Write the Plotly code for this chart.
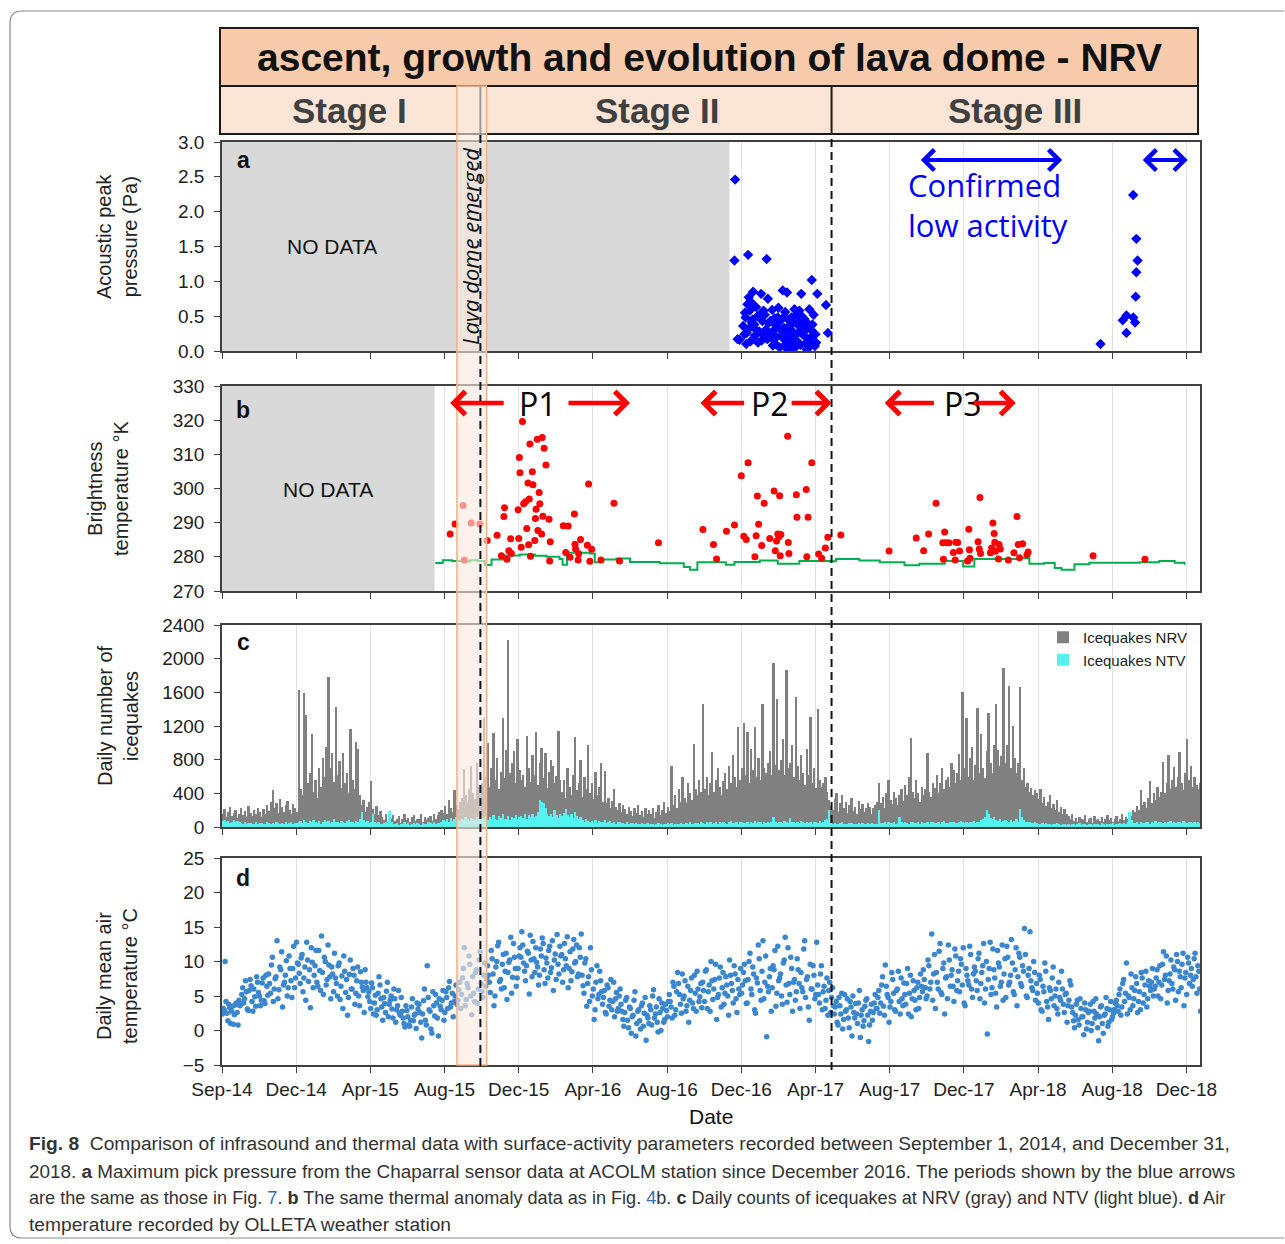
import numpy as np
import pandas as pd
import plotly.graph_objects as go

W, H = 1285, 1244
START = "2014-09-01"
END = "2018-12-31"

# ---------------- data ----------------
tick_dates = ["2014-09-01", "2014-12-30", "2015-04-29", "2015-08-27", "2015-12-25",
              "2016-04-23", "2016-08-21", "2016-12-19", "2017-04-18", "2017-08-16",
              "2017-12-14", "2018-04-13", "2018-08-11", "2018-12-09"]
tick_labels = ["Sep-14", "Dec-14", "Apr-15", "Aug-15", "Dec-15", "Apr-16", "Aug-16",
               "Dec-16", "Apr-17", "Aug-17", "Dec-17", "Apr-18", "Aug-18", "Dec-18"]

# (a) acoustic peak pressure, days since 2014-09-01
acoustic_days = [830, 829, 851, 881, 834, 837, 954, 963, 977, 980, 946, 859, 872, 883, 852, 850, 854,
                 864, 871, 847, 857, 843, 849, 855, 867, 875, 882, 889, 890, 899, 907, 914, 910, 903,
                 905, 912, 917, 922, 925, 929, 934, 937, 939, 932, 923, 942, 945, 950, 952, 955, 959,
                 960, 944, 895, 902, 915, 927, 874, 880, 887, 865, 845, 848, 862, 893, 918, 935, 948,
                 876, 896, 908, 846, 853, 856, 858, 861, 866, 869, 873, 878, 884, 886, 891, 894, 897,
                 900, 904, 909, 911, 913, 916, 919, 921, 924, 926, 928, 931, 933, 936, 938, 940, 943,
                 947, 951, 953, 957, 961,
                 1421, 1463, 1457, 1463, 1474, 1477, 1478, 1479, 1481, 1479, 1474]
acoustic_pa = [2.46, 1.30, 1.38, 1.32, 0.17, 0.16, 1.02, 0.82, 0.66, 0.26, 0.02, 0.85, 0.82, 0.75, 0.77,
               0.67, 0.58, 0.63, 0.53, 0.48, 0.41, 0.36, 0.26, 0.14, 0.12, 0.24, 0.17, 0.19, 0.59, 0.48,
               0.87, 0.84, 0.50, 0.31, 0.22, 0.10, 0.17, 0.29, 0.41, 0.52, 0.58, 0.82, 0.24, 0.12, 0.07,
               0.46, 0.31, 0.60, 0.19, 0.38, 0.07, 0.24, 0.11, 0.10, 0.05, 0.02, 0.05, 0.43, 0.31, 0.43,
               0.29, 0.24, 0.10, 0.22, 0.30, 0.43, 0.43, 0.04, 0.58, 0.37, 0.18, 0.55, 0.33, 0.70, 0.45,
               0.38, 0.50, 0.28, 0.15, 0.52, 0.40, 0.22, 0.08, 0.47, 0.20, 0.62, 0.44, 0.33, 0.56, 0.27,
               0.35, 0.13, 0.48, 0.22, 0.60, 0.16, 0.38, 0.27, 0.09, 0.50, 0.33, 0.21, 0.40, 0.14, 0.30,
               0.52, 0.12,
               0.10, 0.26, 0.44, 0.51, 0.48, 0.41, 0.78, 1.13, 1.30, 1.61, 2.24]

# (b) thermal anomalies (brightness temperature, K)
thermal_days = [369, 377, 390, 392, 403, 417, 429, 445, 452, 456, 457, 461, 464, 468, 467, 479, 480,
                481, 482, 486, 484, 488, 491, 493, 495, 496, 498, 499, 497, 502, 503, 506, 507, 508,
                510, 513, 514, 511, 517, 518, 519, 521, 524, 529, 531, 530, 552, 560, 556, 563, 570,
                571, 572, 576, 577, 580, 591, 593, 598, 595, 613, 634, 643,
                706, 778, 795, 800, 816, 829, 840, 844, 848, 851, 862, 864, 866, 868, 873, 877, 886,
                893, 895, 897, 899, 901, 902, 903, 904, 915, 916, 917, 929, 930, 945, 946, 948, 954,
                965, 970, 976, 980, 1001, 1079, 1123, 1135, 1143, 1155, 1166, 1167, 1169, 1171, 1176,
                1183, 1186, 1187, 1190, 1193, 1206, 1208, 1209, 1210, 1223, 1225, 1226, 1227, 1243,
                1245, 1247, 1249, 1250, 1251, 1256, 1257, 1259, 1272, 1281, 1286, 1288, 1290, 1295,
                1302, 1304, 1409, 1493]
thermal_k = [286.7, 289.6, 295, 279.1, 289.9, 289.6, 284.8, 286.3, 280.3, 291.8, 294.4, 279.3, 281.8,
             281, 285.3, 293.8, 285.4, 309.1, 304.6, 319.6, 282.8, 295.5, 296.1, 288.3, 301.6, 283.5,
             313, 280.2, 296.9, 304.9, 301.1, 284.8, 291.2, 293.9, 314.4, 298.8, 295.5, 287.7, 286.7,
             314.9, 291.9, 311.8, 306.9, 291, 284.4, 278.8, 289.1, 289, 281.3, 279.9, 292.5, 283.7,
             282.3, 279.1, 280.9, 285.1, 283.4, 301.3, 282.2, 278.7, 279.1, 295.7, 278.8,
             284.1, 288, 283.6, 279.4, 287.5, 289.3, 303.7, 286, 285.1, 307.5, 280, 286.2, 297.8,
             289.5, 283.3, 295.7, 285.4, 299.3, 281.8, 284.6, 286.7, 285.9, 297.9, 280.3, 286.5,
             315.3, 284.2, 281, 298.2, 291.6, 299.7, 280, 291.6, 307.5, 280.8, 279.6, 282.6, 285.7,
             286.4, 281.7, 285.5, 281.8, 286.7, 295.7, 284.1, 279.3, 287.3, 284.1, 284.1, 281.3,
             279.1, 284.3, 284.2, 281.7, 278.8, 288.1, 282.1, 279.6, 284.4, 282.3, 297.4, 281, 281.2,
             282.6, 289.9, 286.8, 284.3, 281.6, 279.4, 283.6, 282.3, 279.1, 281.2, 291.8, 283.6,
             279.7, 283.8, 280.6, 281.4, 280.3, 279.3]

# (b) background brightness temperature (green line)
background_days = [345, 357, 372, 388, 401, 414, 425, 436, 457, 482, 506, 525, 546, 551, 558, 595,
                   603, 611, 638, 660, 708, 747, 757, 769, 805, 815, 829, 870, 899, 934, 983, 993,
                   1031, 1064, 1104, 1128, 1169, 1199, 1217, 1258, 1293, 1306, 1330, 1347, 1358,
                   1379, 1403, 1484, 1516, 1541, 1557]
background_k = [278.2, 279.0, 278.8, 278.6, 279.0, 278.8, 277.6, 279.2, 280.4, 280.7, 280.3, 280.0,
                279.4, 277.7, 281.2, 281.0, 278.4, 279.2, 279.5, 278.5, 278.1, 277.0, 276.2, 278.4,
                278.4, 277.7, 278.5, 278.9, 278.0, 278.8, 278.7, 279.4, 278.9, 278.4, 277.5, 278.0,
                278.8, 277.2, 279.4, 279.4, 279.6, 278.0, 278.2, 276.7, 276.2, 277.8, 278.3, 278.4,
                278.8, 278.3, 277.7]

# (c) icequake counts, in 3-day bins from 2014-09-01
bin_days = 3
icequakes_nrv = [
    150, 210, 120, 180, 240, 130, 170, 200, 110, 160, 220, 140, 190, 120, 250, 170, 130, 200, 150, 230,
    180, 120, 210, 160, 260, 190, 300, 440, 220, 280, 170, 330, 240, 180, 260, 310, 200, 150, 270, 230,
    180, 1630, 450, 380, 1590, 1330, 520, 640, 1100, 420, 560, 350, 700, 480, 820, 600, 950, 1780, 700,
    880, 540, 1420, 620, 780, 460, 880, 520, 640, 400, 1170, 560, 450, 1010, 925, 380, 260, 320, 180,
    240, 300, 550, 210, 160, 250, 140, 190, 120, 80, 150, 60, 110, 90, 140, 70, 100, 130, 50, 90, 160,
    80, 110, 60, 120, 140, 70, 100, 90, 150, 60, 120, 80, 110, 130, 70, 160, 100, 140, 180, 200, 170,
    250, 150, 320, 220, 180, 440, 260, 210, 300, 350, 690, 380, 300, 450, 720, 400, 330, 760, 480, 420,
    520, 1300, 600, 1000, 480, 700, 1120, 560, 820, 450, 650, 1290, 580, 920, 2220, 640, 760, 900, 520,
    1050, 680, 560, 620, 480, 1080, 700, 540, 860, 620, 1130, 500, 760, 940, 580, 880, 460, 650, 800,
    720, 520, 610, 1140, 560, 420, 560, 350, 700, 480, 380, 620, 1075, 440, 520, 800, 360, 600, 450,
    976, 400, 520, 330, 650, 380, 470, 760, 300, 660, 280, 350, 220, 310, 450, 240, 200, 290, 180, 260,
    210, 150, 240, 190, 130, 220, 170, 260, 140, 190, 120, 230, 160, 200, 150, 220, 110, 180, 260, 140,
    200, 300, 170, 240, 190, 720, 260, 380, 220, 450, 300, 600, 350, 280, 520, 400, 320, 990, 450, 380,
    560, 420, 1465, 450, 600, 380, 520, 890, 420, 560, 700, 480, 380, 550, 640, 450, 720, 520, 860, 600,
    480, 1190, 560, 700, 1230, 620, 1130, 520, 930, 680, 1190, 600, 820, 560, 1465, 700, 640, 760, 900,
    620, 1950, 740, 1525, 680, 800, 1050, 620, 1860, 700, 760, 980, 600, 1540, 720, 560, 860, 640, 500,
    930, 620, 1310, 520, 700, 460, 1400, 560, 480, 520, 600, 420, 320, 250, 200, 330, 400, 180, 280,
    380, 220, 300, 170, 260, 350, 190, 240, 150, 310, 210, 270, 180, 230, 290, 240, 160, 220, 260, 300,
    520, 280, 360, 230, 400, 560, 320, 270, 420, 340, 260, 380, 450, 310, 500, 380, 600, 1060, 420, 350,
    560, 400, 300, 480, 380, 450, 880, 420, 360, 520, 460, 620, 400, 520, 700, 450, 560, 600, 480, 760,
    680, 520, 640, 870, 560, 1600, 700, 1290, 600, 820, 950, 560, 740, 1410, 640, 1100, 700, 580, 900,
    1360, 760, 640, 980, 1460, 910, 720, 840, 1890, 760, 980, 1680, 700, 1200, 820, 640, 760, 1660, 560,
    700, 480, 520, 420, 460, 380, 440, 400, 330, 450, 280, 360, 250, 300, 380, 220, 270, 200, 320, 180,
    240, 160, 210, 150, 130, 90, 150, 70, 110, 60, 120, 100, 80, 140, 60, 90, 110, 50, 130, 80, 100, 70,
    120, 60, 90, 140, 80, 110, 60, 100, 130, 70, 90, 150, 80, 120, 100, 160, 130, 200, 180, 250, 200,
    440, 260, 300, 220, 350, 550, 280, 400, 320, 480, 360, 420, 770, 400, 520, 850, 450, 560, 710, 480,
    600, 890, 520, 440, 640, 1050, 560, 730, 480, 600, 500, 450, 520]
icequakes_ntv = [
    70, 80, 60, 75, 50, 65, 80, 55, 70, 60, 45, 40, 55, 35, 50, 45, 30, 40, 55, 35, 45, 50, 30, 40, 55,
    45, 35, 50, 40, 60, 45, 35, 50, 40, 55, 30, 45, 60, 40, 50, 45, 60, 75, 50, 80, 65, 45, 70, 55, 85,
    60, 50, 75, 40, 65, 80, 55, 70, 45, 60, 90, 55, 65, 50, 75, 60, 45, 70, 80, 55, 60, 50, 75, 65, 90,
    178, 80, 60, 70, 50, 65, 150, 60, 45, 55, 40, 35, 45, 60, 50, 186, 55, 40, 30, 50, 25, 40, 35, 55,
    30, 45, 20, 40, 50, 30, 45, 35, 25, 50, 40, 30, 55, 45, 35, 60, 40, 50, 45, 60, 80, 70, 95, 65, 110,
    75, 90, 120, 85, 70, 100, 80, 115, 90, 75, 105, 95, 85, 120, 100, 90, 110, 90, 130, 80, 120, 100,
    140, 95, 85, 125, 110, 150, 90, 100, 135, 80, 115, 105, 140, 95, 120, 130, 110, 150, 100, 140, 120,
    160, 115, 135, 180, 324, 300, 280, 220, 150, 130, 160, 120, 200, 140, 110, 150, 125, 170, 210, 140,
    120, 150, 110, 180, 130, 100, 120, 80, 65, 90, 70, 55, 75, 60, 85, 50, 70, 65, 55, 80, 45, 60, 70,
    50, 65, 40, 55, 60, 45, 50, 35, 55, 40, 50, 45, 30, 50, 40, 35, 45, 30, 40, 50, 35, 30, 40, 25, 35,
    45, 30, 20, 40, 35, 50, 30, 45, 25, 40, 35, 30, 50, 40, 35, 45, 30, 55, 40, 35, 50, 45, 40, 55, 50,
    40, 60, 45, 55, 35, 50, 65, 40, 55, 45, 60, 50, 40, 55, 70, 45, 50, 60, 40, 55, 65, 45, 50, 60, 40,
    55, 50, 70, 45, 60, 55, 40, 65, 50, 60, 45, 55, 119, 60, 50, 65, 55, 45, 70, 60, 50, 110, 55, 65,
    45, 60, 50, 70, 55, 45, 60, 50, 65, 40, 55, 60, 45, 70, 50, 60, 80, 100, 198, 45, 35, 50, 40, 30,
    45, 55, 35, 40, 30, 50, 45, 35, 40, 30, 50, 35, 45, 40, 30, 50, 35, 45, 40, 35, 40, 198, 50, 45, 60,
    40, 55, 50, 45, 60, 40, 50, 120, 55, 45, 60, 50, 40, 65, 55, 45, 50, 60, 40, 55, 50, 45, 60, 40, 55,
    65, 45, 50, 60, 40, 55, 70, 50, 45, 60, 55, 65, 50, 45, 60, 70, 55, 50, 65, 45, 60, 55, 70, 50, 60,
    65, 80, 100, 120, 198, 150, 110, 90, 120, 80, 70, 95, 60, 75, 85, 70, 60, 80, 65, 75, 90, 60, 210,
    120, 80, 65, 55, 60, 50, 45, 55, 45, 40, 35, 50, 30, 45, 40, 35, 25, 40, 30, 45, 35, 25, 40, 30, 20,
    35, 25, 40, 30, 20, 35, 45, 25, 30, 40, 20, 35, 30, 25, 40, 30, 35, 20, 45, 30, 25, 40, 35, 30, 45,
    25, 40, 35, 50, 30, 45, 40, 60, 178, 80, 50, 45, 55, 40, 60, 50, 45, 65, 55, 40, 60, 50, 70, 45, 55,
    60, 50, 65, 45, 55, 70, 50, 60, 45, 65, 55, 50, 70, 60, 45, 55, 65, 50, 60, 45, 55, 50]

# (d) daily mean air temperature, two readings per 3-day bin (offsets 0.5 and 2 days)
air_temp_a = [
    2.4, 3.0, 4.2, 1.4, 3.3, 2.8, 0.9, 3.7, 2.6, 4.4,
    3.8, 6.2, 4.6, 5.6, 2.9, 7.4, 4.2, 6.0, 3.5, 7.0, 5.0, 4.4, 7.6, 3.9, 6.4,
    8.2, 5.4, 10.6, 6.0, 7.8, 4.6, 9.2, 11.4, 6.6, 8.0, 5.0, 10.8, 7.2, 9.0, 6.2, 12.8,
    9.6, 6.8, 11.0, 7.6, 4.4, 10.2, 8.8, 12.0, 6.2, 9.4, 7.0, 11.6, 5.8, 8.4, 10.6, 6.6, 12.4, 7.8, 9.2, 5.6,
    7.6, 5.0, 9.8, 6.4, 3.2, 8.6, 7.4, 4.8, 10.2, 6.0, 8.0, 5.4, 9.2, 3.6, 7.0, 5.8, 8.8, 6.2,
    5.6, 3.2, 6.2, 4.0, 2.2, 5.4, 6.6, 3.4, 4.8, 2.6, 7.0, 3.8, 5.0, 1.8, 4.6, 3.0, 5.8, 2.2,
    2.8, 1.0, 3.6, 2.0, 0.6, 3.4, 1.4, 2.4, 4.0,
    3.8, 1.2, 2.4, 6.0, 0.8, 4.8, 2.8, -0.4, 3.6, 5.2, 1.8, 4.6,
    3.0, 5.8, 2.6, 4.8, 6.2, 3.4, 5.4, 4.2, 6.6,
    4.4, 7.0, 5.2, 9.0, 3.6, 6.8, 10.8, 5.0, 7.8, 4.2, 8.8, 6.0, 11.4, 5.6, 8.0, 6.4,
    9.4, 7.0, 11.6, 8.2, 5.0, 10.0, 12.8, 7.4, 9.6, 6.2, 11.2, 8.4, 10.2, 5.4, 12.6, 9.0, 7.6, 10.8,
    10.6, 12.4, 8.6, 9.4, 11.2, 13.8, 7.8, 10.4, 12.0, 9.2, 8.0, 10.8, 12.6, 6.8, 9.8, 11.6, 8.4,
    13.0, 10.2, 7.4, 9.6, 12.2, 11.0, 8.8, 10.4, 13.6, 9.0, 7.2, 11.8, 9.8, 12.4, 8.2, 10.6,
    8.0, 5.4, 10.4, 6.8, 4.2, 8.8, 6.0, 3.0, 9.4, 5.2, 7.2,
    3.8, 5.8, 2.4, 6.2, 4.4, 3.0, 7.0, 4.6, 2.8, 5.0,
    3.8, 1.6, 2.6, 4.8, 0.4, 3.2, 2.0, 4.4, -0.8, 2.8, 1.4, 3.6, 0.6, 4.8, 2.2, 1.0, 3.0, 5.0, 1.8,
    3.4, -0.2, 2.6, 4.0, 1.2, 3.8, 2.0,
    5.2, 3.4, 7.0, 2.2, 5.6, 6.8, 3.8, 8.2, 5.0, 2.8, 6.4, 4.4, 7.6, 3.2, 5.4, 8.6, 4.2, 6.8,
    7.0, 4.2, 8.8, 5.6, 2.8, 7.2, 6.0, 9.6, 4.8, 7.6, 3.4, 8.4, 5.4, 6.6, 2.2, 8.0, 5.8, 9.4, 4.6, 7.4, 5.2,
    5.4, 8.4, 7.2, 4.0, 10.0, 6.0, 9.2, 3.0, 7.6, 12.4, 5.8, 8.6, 4.6, 10.8, 6.4, 7.8, 2.8, 9.4, 11.6,
    5.4, 7.2, 8.2, 3.8, 10.2, 6.6, 12.0, 5.2, 9.0, 7.0, 4.4, 10.4, 6.8, 8.4, 5.6, 13.0, 7.4, 3.4, 9.6,
    6.0, 8.0, 5.2,
    6.6, 4.0, 9.4, 5.6, 3.2, 7.6, 5.8, 2.6, 6.2,
    2.4, 4.2, 0.8, 3.6, 5.4, 1.6, 2.8, 4.6, 0.4, 3.4, 5.0, 1.8, 2.4, 4.0, -1.0, 3.0, 1.4, 4.4, 2.2,
    0.8, 3.8, 2.6, 5.2,
    3.2, 5.8, 4.0, 7.8, 2.2, 6.4, 4.8, 3.4, 8.4, 5.4, 2.8, 6.0, 4.2, 7.6, 3.6, 5.2, 6.8, 2.4, 8.0,
    4.6, 5.8, 3.0, 7.0, 4.8, 6.4,
    8.8, 6.2, 5.0, 9.4, 7.0, 4.4, 11.0, 8.4, 6.0, 12.6, 5.2, 9.8, 7.6, 4.6, 10.2, 8.0, 6.4, 11.8,
    5.8, 8.6, 10.4, 6.6, 4.0, 9.0, 7.2, 12.2, 6.0, 8.2,
    8.6, 5.8, 11.2, 6.8, 9.4, 4.0, 10.0, 7.4, 12.8, 6.2, 8.8, 5.4, 11.6, 9.2, 7.0, 4.4, 10.4, 12.2,
    6.6, 8.0, 9.8, 5.2, 12.0, 7.8, 10.6, 6.4, 8.6, 11.0, 4.8, 9.0, 7.2, 5.8, 8.4,
    6.8, 4.0, 7.4, 2.8, 5.6, 8.6, 3.4, 6.2, 4.6, 9.2, 5.0, 3.2, 7.0, 4.4, 6.0, 2.6, 5.4, 3.6, 7.2,
    3.4, 1.4, 2.2, 4.4, 0.8, 3.2, 2.0, 4.0, 0.2, 2.6, 3.8, 1.0, 2.8, 4.6, 0.4, 2.0, 3.6, -0.4, 2.4,
    3.2, 1.2, 4.2, 2.0, 3.0,
    4.4, 2.8, 6.0, 3.4, 7.4, 5.4, 2.4, 4.8, 8.2, 3.6, 5.8, 6.8, 4.2, 3.0, 7.6, 5.2, 8.6, 4.6, 6.4, 7.0, 5.0,
    6.4, 8.8, 7.0, 4.6, 9.6, 7.4, 10.8, 5.8, 8.2, 6.8, 9.2, 4.4, 10.0, 8.6, 6.2, 11.2, 7.6, 5.2,
    9.8, 8.0, 6.4, 10.4, 7.8, 9.4, 6.0]
air_temp_b = [
    3.2, 10.0, 2.5, 3.8, 1.0, 3.5, 2.3, 4.0, 0.8, 3.6,
    5.2, 4.0, 7.2, 3.1, 5.8, 6.5, 2.8, 4.9, 7.8, 5.5, 3.6, 6.9, 4.3, 8.0, 5.1,
    6.8, 9.5, 4.2, 7.5, 13.0, 5.9, 8.8, 3.4, 7.0, 10.1, 6.2, 9.0, 4.8, 12.2, 7.6, 9.8,
    8.3, 10.5, 5.6, 9.2, 12.8, 7.1, 3.3, 9.9, 8.0, 11.6, 6.4, 8.7, 13.7, 5.2, 10.0, 7.4, 9.5, 4.6, 8.2, 11.2,
    6.8, 9.4, 4.5, 7.9, 10.8, 5.5, 2.2, 8.1, 6.0, 9.0, 3.8, 7.2, 5.0, 8.5, 6.3, 2.6, 7.0, 4.9,
    4.2, 6.9, 2.4, 5.1, 3.0, 7.8, 4.6, 1.5, 3.9, 5.7, 2.0, 4.4, 3.1, 6.0, 1.2, 3.6, 2.5, 4.8,
    1.8, 0.5, 2.9, 0.8, 1.5, 4.6, 2.2, 0.3, 3.1,
    2.6, -1.1, 4.3, 1.5, 9.4, 3.0, 0.2, 5.6, 2.1, 4.0, -0.8, 3.5,
    4.4, 1.5, 5.6, 3.2, 7.1, 4.0, 2.0, 5.0, 3.8,
    5.9, 3.2, 7.6, 12.0, 4.5, 6.2, 9.6, 2.3, 5.4, 8.4, 3.9, 10.2, 6.8, 4.8, 9.8, 7.4,
    8.0, 5.5, 10.4, 3.6, 9.2, 12.3, 7.1, 6.0, 11.0, 8.6, 4.5, 9.9, 13.5, 7.7, 10.6, 6.4, 9.0, 12.0,
    14.3, 9.8, 7.2, 11.5, 5.3, 10.2, 12.9, 8.4, 9.9, 6.6, 11.8, 13.4, 8.8, 10.5, 7.6, 12.2, 9.1, 5.8,
    11.1, 13.9, 8.2, 10.8, 7.0, 12.6, 9.4, 6.2, 11.4, 8.5, 13.2, 10.0, 7.8, 12.0, 14.0,
    6.5, 9.8, 3.5, 7.8, 12.0, 5.0, 1.6, 7.0, 4.6, 8.6, 5.6,
    4.8, 2.6, 6.6, 3.5, 7.4, 4.2, 2.0, 5.5, 3.2, 6.0,
    2.8, 0.6, 4.4, 1.5, 3.4, -0.4, 2.2, 5.6, 1.0, 3.0, 0.2, 4.0, 2.5, -1.4, 1.8, 3.6, 0.8, 5.9, 2.4,
    1.2, 4.6, 0.0, 3.2, 1.6, 2.9, 4.2,
    4.2, 1.8, 6.4, 3.0, 8.4, 5.2, 2.5, 4.6, 7.2, 3.6, 1.2, 5.8, 4.0, 8.0, 2.8, 6.0, 4.9, 3.3,
    5.8, 8.6, 3.2, 6.6, 10.0, 4.5, 7.4, 1.6, 5.2, 9.2, 6.2, 3.8, 7.8, 5.0, 10.2, 6.8, 4.0, 8.2, 2.6, 6.0, 9.0,
    6.6, 9.6, 3.9, 7.4, 11.2, 5.2, 8.2, 2.5, 6.9, 10.4, 4.4, 13.0, 7.0, -0.9, 5.6, 9.0, 6.2, 8.8, 3.5,
    12.2, 7.6, 5.0, 9.8, 13.5, 4.1, 6.8, 10.6, 2.8, 7.4, 5.6, 8.8, 3.2, 6.2, 11.8, 4.8, 7.8, 1.5, 6.0,
    9.4, 4.6, 12.8,
    5.2, 8.2, 3.0, 6.4, 4.4, 2.2, 7.0, 4.8, 3.6,
    3.4, 1.2, 4.8, 2.4, 0.2, 5.2, 3.0, 1.8, 4.2, -0.8, 2.6, 3.9, 1.0, 5.8, 2.2, 0.6, 3.5, 4.6, -1.6,
    2.8, 1.5, 4.0, 3.2,
    4.8, 2.5, 6.6, 3.5, 9.5, 5.2, 1.2, 4.2, 7.4, 3.0, 5.8, 8.6, 2.4, 4.6, 6.9, 3.8, 9.0, 5.4, 2.0,
    7.2, 4.4, 6.2, 3.2, 8.2, 5.6,
    7.4, 4.6, 10.2, 6.0, 14.0, 8.2, 3.2, 7.0, 11.5, 5.5, 9.0, 2.4, 7.8, 12.4, 6.4, 8.8, 4.2, 10.8,
    7.2, 5.6, 9.6, 12.0, 3.6, 8.0, 6.6, 11.0, 4.8, 9.2,
    7.2, 10.4, 4.6, 8.4, 12.6, 6.0, -0.5, 9.0, 5.2, 11.8, 7.6, 3.4, 9.8, 6.4, 12.4, 8.2, 4.8, 10.6,
    7.0, 13.2, 5.6, 8.8, 3.6, 11.2, 6.8, 9.4, 14.8, 5.0, 8.0, 14.3, 6.2, 10.0, 4.4,
    5.4, 8.0, 3.0, 6.4, 9.8, 4.2, 1.6, 5.8, 7.6, 3.6, 6.0, 2.4, 4.8, 8.6, 3.8, 5.2, 1.2, 4.4, 6.6,
    2.6, 0.4, 3.8, 1.6, 4.6, 2.0, -0.6, 3.0, 1.2, 2.8, 0.0, 4.2, 1.8, 2.4, -1.5, 3.4, 1.0, 2.2, 4.8,
    0.6, 3.0, 1.6, 2.5, 4.0,
    3.6, 5.2, 2.2, 6.8, 4.2, 9.8, 5.0, 3.0, 6.2, 4.6, 7.8, 2.6, 5.6, 8.4, 4.0, 6.6, 3.4, 7.2, 5.8, 9.0, 6.0,
    7.6, 5.0, 9.4, 6.6, 11.4, 8.0, 4.0, 7.2, 10.2, 6.0, 8.8, 11.0, 5.6, 7.8, 9.6, 3.6, 8.4, 10.6,
    6.8, 9.0, 7.4, 11.2, 5.4, 8.6, 2.8]

# events (days since 2014-09-01)
no_data_a_end = 821
no_data_b_end = 344
lava_band_start, lava_band_end = 380, 428
dome_line_day = 418
stage3_day = 986

# ---------------- helpers ----------------
T0 = pd.Timestamp(START)


def d2s(day):
    return (T0 + pd.Timedelta(days=float(day))).strftime("%Y-%m-%d %H:%M:%S")


def to_dates(days):
    return [d2s(d) for d in days]


def px(x):
    return x / W


def py(y):
    return 1 - y / H


ARIAL = "Liberation Sans, Arial, sans-serif"
CAPF = "Liberation Sans, Arial, sans-serif"
CAL = "Open Sans, sans-serif"

bin_x = to_dates([i * bin_days + bin_days / 2 for i in range(len(icequakes_nrv))])
BAR_W = bin_days * 86400000
temp_days = []
temp_vals = []
for i in range(max(len(air_temp_a), len(air_temp_b))):
    if i < len(air_temp_a):
        temp_days.append(i * bin_days + 0.5)
        temp_vals.append(air_temp_a[i])
    if i < len(air_temp_b):
        temp_days.append(i * bin_days + 2.0)
        temp_vals.append(air_temp_b[i])

fig = go.Figure()

# no-data areas (grey boxes)
fig.add_trace(go.Scatter(x=[START, d2s(no_data_a_end), d2s(no_data_a_end), START, START],
                         y=[0, 0, 3, 3, 0], mode="lines", fill="toself", fillcolor="#D9D9D9",
                         line=dict(width=0), hoverinfo="skip", xaxis="x", yaxis="y",
                         showlegend=False))
fig.add_trace(go.Scatter(x=[START, d2s(no_data_b_end), d2s(no_data_b_end), START, START],
                         y=[270, 270, 330, 330, 270], mode="lines", fill="toself",
                         fillcolor="#D9D9D9", line=dict(width=0), hoverinfo="skip",
                         xaxis="x2", yaxis="y2", showlegend=False))

fig.add_trace(go.Scatter(x=to_dates(acoustic_days), y=acoustic_pa, mode="markers",
                         marker=dict(symbol="diamond", size=8, color="#0000FF"),
                         xaxis="x", yaxis="y", showlegend=False))
fig.add_trace(go.Scatter(x=to_dates(background_days), y=background_k, mode="lines",
                         line=dict(color="#00B050", width=2, shape="hv"),
                         xaxis="x2", yaxis="y2", showlegend=False))
fig.add_trace(go.Scatter(x=to_dates(thermal_days), y=thermal_k, mode="markers",
                         marker=dict(size=7, color="#FF0000"),
                         xaxis="x2", yaxis="y2", showlegend=False))
fig.add_trace(go.Bar(x=bin_x, y=icequakes_nrv, width=BAR_W, name="Icequakes NRV",
                     marker=dict(color="#808080", line=dict(width=0)),
                     xaxis="x3", yaxis="y3"))
fig.add_trace(go.Bar(x=bin_x, y=icequakes_ntv, width=BAR_W, name="Icequakes NTV",
                     marker=dict(color="#55F2F2", line=dict(width=0)),
                     xaxis="x3", yaxis="y3"))
fig.add_trace(go.Scatter(x=to_dates(temp_days), y=temp_vals, mode="markers",
                         marker=dict(size=5.5, color="#3A86CF"),
                         xaxis="x4", yaxis="y4", showlegend=False))

X_DOM = [px(222), px(1200)]
panels = {
    "": ([py(351), py(142)], [0, 3], 0.5, ".1f"),
    "2": ([py(591), py(386)], [270, 330], 10, "d"),
    "3": ([py(827), py(625)], [0, 2400], 400, "d"),
    "4": ([py(1065), py(858)], [-5, 25], 5, "d"),
}
AXC = "#404040"
for k, (dom, rng, dt, fmt) in panels.items():
    fig.update_layout(**{
        "xaxis" + k: dict(domain=X_DOM, anchor="y" + k, type="date", range=[START, END],
                          tickmode="array", tickvals=tick_dates, ticktext=tick_labels,
                          showticklabels=(k == "4"), ticks="outside", ticklen=6, tickwidth=1.2,
                          tickcolor=AXC, showgrid=True, gridcolor="#E3E3E3", gridwidth=1,
                          showline=True, linecolor=AXC, linewidth=1.5, mirror=True,
                          zeroline=False, automargin=False,
                          tickfont=dict(family=ARIAL, size=19, color="#222"),
                          ticklabelstandoff=0),
        "yaxis" + k: dict(domain=dom, anchor="x" + k, range=rng, dtick=dt, tick0=rng[0],
                          tickformat=fmt, ticks="outside", ticklen=6, tickwidth=1.2,
                          tickcolor=AXC, showgrid=False, showline=True, linecolor=AXC,
                          linewidth=1.5, mirror=True, zeroline=False, automargin=False,
                          tickfont=dict(family=ARIAL, size=19, color="#222"),
                          ticklabelstandoff=6),
    })

shapes = []
# outer rounded frame (open on the right, as in the cropped original)
frame = (f"M {px(1284)},{py(11)} L {px(22)},{py(11)} Q {px(10)},{py(11)} {px(10)},{py(23)} "
         f"L {px(10)},{py(1226)} Q {px(10)},{py(1238)} {px(22)},{py(1238)} L {px(1284)},{py(1238)}")
shapes.append(dict(type="path", path=frame, xref="paper", yref="paper",
                   line=dict(color="#8A8A8A", width=1.2)))
# header boxes
shapes.append(dict(type="rect", xref="paper", yref="paper", x0=px(220), x1=px(1198),
                   y0=py(86), y1=py(28), fillcolor="#F8CBAD", line=dict(color="#1A1A1A", width=2)))
shapes.append(dict(type="rect", xref="paper", yref="paper", x0=px(220), x1=px(1198),
                   y0=py(134), y1=py(86), fillcolor="#FBE5D6", line=dict(color="#1A1A1A", width=2)))
for dday in (dome_line_day, stage3_day):
    shapes.append(dict(type="line", xref="x", yref="paper", x0=d2s(dday), x1=d2s(dday),
                       y0=py(134), y1=py(86), line=dict(color="#1A1A1A", width=2)))
# lava dome band
shapes.append(dict(type="rect", xref="x", yref="paper", x0=d2s(lava_band_start),
                   x1=d2s(lava_band_end), y0=py(1065), y1=py(86),
                   fillcolor="rgba(252,234,222,0.62)", line=dict(color="#F4B183", width=1.5),
                   layer="above"))
for dday, ybot in ((dome_line_day, 1066), (stage3_day, 1070)):
    shapes.append(dict(type="line", xref="x", yref="paper", x0=d2s(dday), x1=d2s(dday),
                       y0=py(ybot), y1=py(134), line=dict(color="#111", width=2, dash="8px,5px"),
                       layer="above"))


def ann(text, x, y, size, color="#222", family=ARIAL, xanchor="center", yanchor="middle",
        textangle=0, xref="paper", yref="paper", align="center"):
    return dict(text=text, x=x, y=y, xref=xref, yref=yref, showarrow=False, xanchor=xanchor,
                yanchor=yanchor, textangle=textangle, align=align,
                font=dict(family=family, size=size, color=color))


annotations = [
    ann("<b>ascent, growth and evolution of lava dome - NRV</b>", px(709), py(58), 39, "#111"),
    ann("<b>Stage I</b>", px(350), py(110), 35, "#404040"),
    ann("<b>Stage II</b>", px(657), py(110), 35, "#404040"),
    ann("<b>Stage III</b>", px(1015), py(110), 35, "#404040"),
    ann("<b>a</b>", px(243), py(160), 23, "#111"),
    ann("<b>b</b>", px(243), py(410), 23, "#111"),
    ann("<b>c</b>", px(243), py(642), 23, "#111"),
    ann("<b>d</b>", px(243), py(878), 23, "#111"),
    ann("NO DATA", px(332), py(246), 21, "#111"),
    ann("NO DATA", px(328), py(489), 21, "#111"),
    ann("Acoustic peak<br>pressure (Pa)", px(117), py(236), 20, "#222", textangle=-90),
    ann("Brightness<br>temperature °K", px(108), py(489), 20, "#222", textangle=-90),
    ann("Daily number of<br>icequakes", px(118), py(716), 20, "#222", textangle=-90),
    ann("Daily mean air<br>temperature °C", px(117), py(976), 20, "#222", textangle=-90),
    ann("Date", px(711), py(1116), 21, "#111"),
    ann("<i>Lava dome emerged</i>", d2s(402), 1.50, 22, "#111", family=CAL, textangle=-90,
        xref="x", yref="y"),
    ann("Confirmed<br>low activity", d2s(1107), 2.09, 31, "#0000FF", family=CAL,
        xanchor="left", align="left", xref="x", yref="y"),
    ann("P1", d2s(511), 325, 32, "#000", family=CAL, xref="x2", yref="y2"),
    ann("P2", d2s(886), 325, 32, "#000", family=CAL, xref="x2", yref="y2"),
    ann("P3", d2s(1199), 325, 32, "#000", family=CAL, xref="x2", yref="y2"),
]


def arrow(head, tail, y, color, xr, yr, width, both=False):
    return dict(x=d2s(head), y=y, ax=d2s(tail), ay=y, xref=xr, yref=yr, axref=xr, ayref=yr,
                text="", showarrow=True, arrowhead=4, startarrowhead=4, arrowsize=1,
                startarrowsize=1, arrowwidth=width, arrowcolor=color,
                arrowside="end+start" if both else "end")


annotations += [
    arrow(1359, 1128, 2.74, "#0000FF", "x", "y", 4, both=True),
    arrow(1562, 1487, 2.74, "#0000FF", "x", "y", 4, both=True),
    arrow(369, 458, 325, "#FF0000", "x2", "y2", 4.5),
    arrow(660, 558, 325, "#FF0000", "x2", "y2", 4.5),
    arrow(774, 847, 325, "#FF0000", "x2", "y2", 4.5),
    arrow(986, 919, 325, "#FF0000", "x2", "y2", 4.5),
    arrow(1072, 1154, 325, "#FF0000", "x2", "y2", 4.5),
    arrow(1284, 1214, 325, "#FF0000", "x2", "y2", 4.5),
]

LINK = "#2D6CB5"
caption = [
    "<b>Fig. 8</b>  Comparison of infrasound and thermal data with surface-activity parameters "
    "recorded between September 1, 2014, and December 31,",
    "2018. <b>a</b> Maximum pick pressure from the Chaparral sensor data at ACOLM station since "
    "December 2016. The periods shown by the blue arrows",
    f"are the same as those in Fig. <span style='color:{LINK}'>7</span>. <b>b</b> The same thermal "
    f"anomaly data as in Fig. <span style='color:{LINK}'>4</span>b. <b>c</b> Daily counts of icequakes "
    "at NRV (gray) and NTV (light blue). <b>d</b> Air",
    "temperature recorded by OLLETA weather station",
]
caption_sizes = [19.2, 18.9, 18.1, 19.2]
for line, yy, fs in zip(caption, (1143, 1171, 1198, 1224), caption_sizes):
    annotations.append(ann(line, px(27), py(yy), fs, "#333", family=CAPF, xanchor="left"))

fig.update_layout(
    width=W, height=H, autosize=False,
    margin=dict(l=0, r=0, t=0, b=0, pad=0, autoexpand=False),
    paper_bgcolor="white", plot_bgcolor="white",
    barmode="overlay", bargap=0,
    shapes=shapes, annotations=annotations,
    font=dict(family=ARIAL, color="#222"),
    legend=dict(x=px(1192), xanchor="right", y=py(621), yanchor="top",
                font=dict(family=ARIAL, size=15, color="#222"), bgcolor="rgba(0,0,0,0)",
                itemwidth=30, tracegroupgap=0),
)

fig.write_html("out.html")
